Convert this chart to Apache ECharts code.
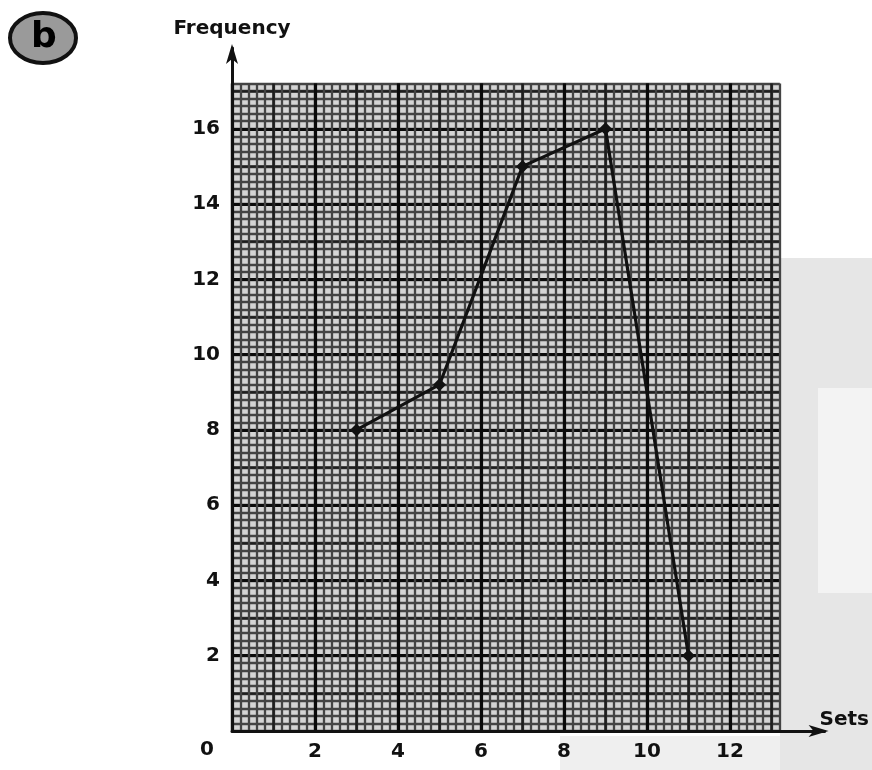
<!DOCTYPE html>
<html>
<head>
<meta charset="utf-8">
<script src="https://cdn.jsdelivr.net/npm/echarts@6/dist/echarts.min.js"></script>
<style>
html,body{margin:0;padding:0;background:#fff;}
#chart{width:872px;height:770px;}
</style>
</head>
<body>
<div id="chart"></div>
<script>
// ---- data ----
const sets = [3, 5, 7, 9, 11];
const frequency = [8, 9.2, 15, 16, 2];
const xTicks = [2, 4, 6, 8, 10, 12];
const yTicks = [2, 4, 6, 8, 10, 12, 14, 16];
const xName = 'Sets';
const yName = 'Frequency';
const panelLabel = 'b';

// ---- layout ----
const X0 = 232, Y0 = 731;          // origin pixel
const PX_X = 41.5, PX_Y = 37.64;   // pixels per unit
const XMAX = 13.2, YMAX = 17.2;    // graph paper extent
const gridA = {left: X0, top: Y0 - YMAX * PX_Y, width: XMAX * PX_X, height: YMAX * PX_Y,
  show: true, backgroundColor: '#d4d4d4', borderWidth: 0};
const gridB = {left: X0, top: 48, width: 826 - X0, height: Y0 - 48, show: false};

const labelFont = {fontFamily: 'DejaVu Sans', fontWeight: 'bold', fontSize: 20, color: '#111'};
const nameFont = {fontFamily: 'DejaVu Sans', fontWeight: 'bold', fontSize: 20, color: '#111'};

function paperAxis(dim, interval, lineColor, lineWidth, withLabels) {
  const max = dim === 'x' ? XMAX : YMAX;
  const ticks = dim === 'x' ? xTicks : yTicks;
  // regular ticks plus the extent-end tick; hide the line drawn at the extent end
  const n = Math.floor(max / interval + 1e-6) + 1;
  const endIsTick = Math.abs(max / interval - Math.round(max / interval)) < 1e-6;
  const colors = [];
  for (let i = 0; i < n; i++) colors.push(lineColor);
  if (!endIsTick) colors.push('rgba(0,0,0,0)');
  return {
    type: 'value', gridIndex: 0, min: 0, max: max, interval: interval,
    position: dim === 'x' ? 'bottom' : 'left',
    axisLine: {show: false}, axisTick: {show: false},
    splitLine: {show: true, lineStyle: {color: colors, width: lineWidth}},
    axisLabel: withLabels ? Object.assign({
      show: true, margin: dim === 'x' ? 11 : 12,
      formatter: v => ticks.indexOf(Math.round(v * 1000) / 1000) >= 0 ? String(v) : ''
    }, labelFont) : {show: false}
  };
}

const chart = echarts.init(document.getElementById('chart'), null, {renderer: 'canvas'});
chart.setOption({
  animation: false,
  backgroundColor: '#ffffff',
  grid: [gridA, gridB],
  xAxis: [
    paperAxis('x', 0.2, '#444444', 2.3, false),
    paperAxis('x', 1, '#1e1e1e', 2.6, false),
    paperAxis('x', 2, '#0a0a0a', 3.2, true),
    {
      type: 'value', gridIndex: 1, min: 0, max: (826 - X0) / PX_X, position: 'bottom',
      axisLine: {show: true, symbol: ['none', 'arrow'], symbolSize: [9, 20], symbolOffset: [0, 4],
        lineStyle: {color: '#111', width: 3}},
      axisTick: {show: false}, axisLabel: {show: false}, splitLine: {show: false},
      name: xName, nameLocation: 'end', nameGap: -5,
      nameTextStyle: Object.assign({verticalAlign: 'bottom', align: 'left', padding: [0, 0, 1, 0]}, nameFont)
    }
  ],
  yAxis: [
    paperAxis('y', 0.2, '#444444', 2.3, false),
    paperAxis('y', 1, '#1e1e1e', 2.6, false),
    paperAxis('y', 2, '#0a0a0a', 3.2, true),
    {
      type: 'value', gridIndex: 1, min: 0, max: (Y0 - 48) / PX_Y, position: 'left',
      axisLine: {show: true, symbol: ['none', 'arrow'], symbolSize: [9, 20], symbolOffset: [0, 4],
        lineStyle: {color: '#111', width: 3}},
      axisTick: {show: false}, axisLabel: {show: false}, splitLine: {show: false},
      name: yName, nameLocation: 'end', nameGap: 9,
      nameTextStyle: nameFont
    }
  ],
  series: [{
    type: 'line', xAxisIndex: 2, yAxisIndex: 2,
    data: sets.map((s, i) => [s, frequency[i]]),
    symbol: 'diamond', symbolSize: 13,
    lineStyle: {color: '#111', width: 3.2},
    itemStyle: {color: '#111'},
    z: 5
  }],
  graphic: [
    {type: 'rect', z: -10, shape: {x: 780, y: 258, width: 92, height: 512}, style: {fill: '#e6e6e6'}},
    {type: 'rect', z: -9, shape: {x: 818, y: 388, width: 54, height: 205}, style: {fill: '#f3f3f3'}},
    {type: 'rect', z: -10, shape: {x: 560, y: 736, width: 220, height: 34}, style: {fill: '#efefef'}},
    {type: 'ellipse', z: 10, shape: {cx: 43, cy: 38, rx: 33, ry: 25},
      style: {fill: '#9a9a9a', stroke: '#111', lineWidth: 4}},
    {type: 'text', z: 11, x: 44, y: 38,
      style: {text: panelLabel, fontFamily: 'DejaVu Sans', fontWeight: 'bold', fontSize: 36,
        fill: '#000', textAlign: 'center', textVerticalAlign: 'middle'}},
    {type: 'text', z: 11, x: 207, y: 750,
      style: {text: '0', fontFamily: 'DejaVu Sans', fontWeight: 'bold', fontSize: 20,
        fill: '#111', textAlign: 'center', textVerticalAlign: 'middle'}}
  ]
});
</script>
</body>
</html>
